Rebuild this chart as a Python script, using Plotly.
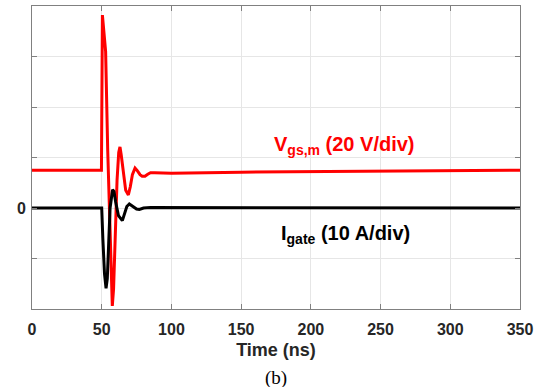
import plotly.graph_objects as go

# Time (ns) and values in divisions
t_vgs = [0, 49.8, 50.5, 52.8, 54.3, 55.5, 56.8, 57.6, 58.5, 59.8, 61.0, 62.2, 63.1, 64.0,
         65.5, 67.2, 69.1, 70.5, 72.0, 73.9, 75.5, 77.5, 79.0, 81.0, 83.0, 85.0, 88.0,
         95.0, 100, 150, 200, 250, 300, 350]
v_vgs = [0.75, 0.75, 3.82, 3.10, 1.15, 0.0, -1.5, -1.94, -1.6, -0.4, 0.55, 1.1, 1.21, 1.05,
         0.7, 0.35, 0.26, 0.42, 0.66, 0.79, 0.74, 0.66, 0.63, 0.63, 0.67, 0.70, 0.70,
         0.69, 0.69, 0.71, 0.72, 0.73, 0.74, 0.75]

t_ig = [0, 50.0, 50.8, 52.0, 53.1, 54.0, 55.0, 56.0, 57.8, 58.8, 60.0, 62.0, 64.8, 66.5,
        68.0, 69.8, 72.0, 75.0, 77.0, 80.0, 85.0, 350]
v_ig = [0, 0, -0.6, -1.3, -1.59, -1.4, -0.7, 0.0, 0.36, 0.33, 0.12, -0.15, -0.25, -0.12,
        0.03, 0.08, 0.04, -0.02, -0.03, 0.0, 0.01, 0]

x_ticks = [0, 50, 100, 150, 200, 250, 300, 350]
y_label_ticks = [0]
y_label_text = ["0"]
y_div = 1  # grid spacing in divisions

FONT = "Liberation Sans"

fig = go.Figure()
fig.add_trace(go.Scatter(x=t_vgs, y=v_vgs, mode="lines",
                         line=dict(color="#ff0000", width=3), showlegend=False))
fig.add_trace(go.Scatter(x=t_ig, y=v_ig, mode="lines",
                         line=dict(color="#000000", width=3), showlegend=False))

axis_common = dict(showline=True, linecolor="#808080", linewidth=1, mirror="ticks",
                   ticks="inside", ticklen=5, tickcolor="#808080",
                   showgrid=True, gridcolor="#e6e6e6", gridwidth=1, zeroline=False)

fig.update_xaxes(range=[0, 350], tickvals=x_ticks,
                 ticktext=["<b>%d</b>" % v for v in x_ticks],
                 tickfont=dict(family=FONT, size=16, color="#262626"),
                 ticklabelstandoff=6,
                 title=dict(text="<b>Time (ns)</b>", font=dict(family=FONT, size=18, color="#262626"),
                            standoff=6),
                 **axis_common)
fig.update_yaxes(range=[-2, 4], tickvals=y_label_ticks,
                 ticktext=["<b>%s</b>" % s for s in y_label_text],
                 tickfont=dict(family=FONT, size=16, color="#262626"),
                 ticklabelstandoff=2,
                 minor=dict(tick0=0, dtick=y_div, ticks="inside", ticklen=5,
                            tickcolor="#808080", showgrid=True, gridcolor="#e6e6e6",
                            gridwidth=1),
                 **axis_common)

fig.add_annotation(x=224, y=1.24, xref="x", yref="y", showarrow=False,
                   text="<b>V<sub>gs,m</sub> (20 V/div)</b>",
                   font=dict(family=FONT, size=20, color="#ff0000"))
fig.add_annotation(x=225, y=-0.52, xref="x", yref="y", showarrow=False,
                   text="<b>I<sub>gate</sub> (10 A/div)</b>",
                   font=dict(family=FONT, size=20, color="#000000"))
fig.add_annotation(x=0.5, y=-0.228, xref="paper", yref="paper", showarrow=False,
                   text="(b)", yanchor="middle",
                   font=dict(family="Liberation Serif", size=19, color="#000000"))

fig.update_layout(width=548, height=387, margin=dict(l=32, r=28, t=6, b=78),
                  paper_bgcolor="white", plot_bgcolor="white",
                  font=dict(family=FONT))

fig.write_html("out.html")
